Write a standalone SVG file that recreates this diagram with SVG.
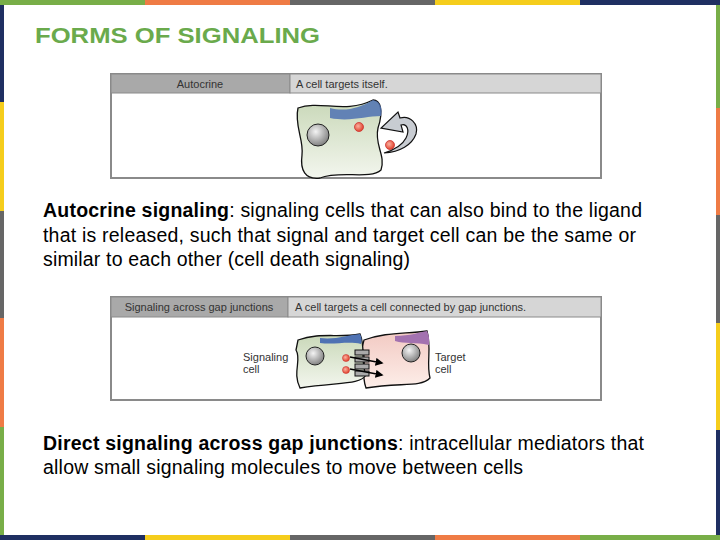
<svg xmlns="http://www.w3.org/2000/svg" width="720" height="540" viewBox="0 0 720 540">
<style>
.body{font-family:"Liberation Sans",Arial,sans-serif;font-size:19.5px;fill:#000}
.hd{font-family:"Liberation Sans",Arial,sans-serif;font-size:11px;fill:#333}
.frame{fill:#fff;stroke:#8a8a8a;stroke-width:2}
.outline{stroke:#111;stroke-width:1.3}
</style>
<defs>
<linearGradient id="gGreen" x1="0" y1="0" x2="0" y2="1"><stop offset="0" stop-color="#c9d8b8"/><stop offset="1" stop-color="#f3f6ee"/></linearGradient>
<linearGradient id="gPink" x1="0" y1="0" x2="0" y2="1"><stop offset="0" stop-color="#f2c9c2"/><stop offset="1" stop-color="#fdeee9"/></linearGradient>
<radialGradient id="gNuc" cx="0.4" cy="0.35" r="0.7"><stop offset="0" stop-color="#f4f4f4"/><stop offset="1" stop-color="#7a7a7a"/></radialGradient>
<radialGradient id="gDot" cx="0.4" cy="0.4" r="0.6"><stop offset="0" stop-color="#fbb0a0"/><stop offset="1" stop-color="#e0442e"/></radialGradient>
<marker id="ah" viewBox="0 0 10 10" refX="8" refY="5" markerWidth="5" markerHeight="5" orient="auto"><path d="M0,0 L10,5 L0,10 z" fill="#000"/></marker>
</defs>
<rect width="720" height="540" fill="#fff"/>
<g id="border">
<rect x="0" y="0" width="145" height="5" fill="#78ae48"/><rect x="145" y="0" width="145" height="5" fill="#ef7b45"/><rect x="290" y="0" width="145" height="5" fill="#666"/><rect x="435" y="0" width="145" height="5" fill="#f5cd1c"/><rect x="580" y="0" width="140" height="5" fill="#1f2f62"/>
<rect x="0" y="535" width="145" height="5" fill="#1f2f62"/><rect x="145" y="535" width="145" height="5" fill="#f5cd1c"/><rect x="290" y="535" width="145" height="5" fill="#666"/><rect x="435" y="535" width="145" height="5" fill="#ef7b45"/><rect x="580" y="535" width="140" height="5" fill="#78ae48"/>
<rect x="0" y="5" width="4" height="97" fill="#1f2f62"/><rect x="0" y="102" width="4" height="109" fill="#f5cd1c"/><rect x="0" y="211" width="4" height="107" fill="#666"/><rect x="0" y="318" width="4" height="109" fill="#ef7b45"/><rect x="0" y="427" width="4" height="108" fill="#78ae48"/>
<rect x="716" y="5" width="4" height="103" fill="#78ae48"/><rect x="716" y="108" width="4" height="107" fill="#ef7b45"/><rect x="716" y="215" width="4" height="108" fill="#666"/><rect x="716" y="323" width="4" height="107" fill="#f5cd1c"/><rect x="716" y="430" width="4" height="105" fill="#1f2f62"/>
</g>
<text x="35" y="43" font-family="Liberation Sans,Arial,sans-serif" font-size="22" font-weight="bold" fill="#6aaa4c" textLength="285" lengthAdjust="spacingAndGlyphs">FORMS OF SIGNALING</text>
<g id="panel1">
<rect class="frame" x="111" y="74" width="490" height="104"/>
<rect x="111" y="74" width="179" height="19" fill="#a9a9a9" stroke="#8a8a8a"/>
<rect x="290" y="74" width="311" height="19" fill="#d6d6d6" stroke="#8a8a8a"/>
<text class="hd" x="200" y="88" text-anchor="middle">Autocrine</text>
<text class="hd" x="296" y="88">A cell targets itself.</text>
<path class="outline" d="M298,108 C320,100 345,114 373,100 C380,100 384,110 378,128 C374,145 386,155 381,170 C370,180 340,170 320,178 C305,180 300,170 302,155 C304,140 294,125 298,108 Z" fill="url(#gGreen)"/>
<path d="M330,108 C345,112 360,108 373,100 C380,101 383,108 381,116 C366,116 350,122 330,118 Z" fill="#4f72b3" opacity="0.85"/>
<circle cx="318" cy="135" r="11" fill="url(#gNuc)" stroke="#222"/>
<circle cx="359" cy="127" r="4.5" fill="url(#gDot)" stroke="#c33" stroke-width="0.8"/>
<circle cx="390" cy="145" r="4.5" fill="url(#gDot)" stroke="#c33" stroke-width="0.8"/>
<path d="M384,153 C400,152 412,145 416,134 C419,124 410,115 400,118 L398,112 L381,128 L403,132 L401,125 C407,123 410,130 406,138 C402,146 394,150 384,153 Z" fill="#c8ccd2" stroke="#111" stroke-width="1.2"/>
</g>
<text class="body" x="43" y="217" textLength="599"><tspan font-weight="bold">Autocrine signaling</tspan>: signaling cells that can also bind to the ligand</text>
<text class="body" x="43" y="242" textLength="593">that is released, such that signal and target cell can be the same or</text>
<text class="body" x="43" y="266" textLength="367">similar to each other (cell death signaling)</text>
<g id="panel2">
<rect class="frame" x="111" y="297" width="490" height="103"/>
<rect x="111" y="297" width="177" height="20" fill="#a9a9a9" stroke="#8a8a8a"/>
<rect x="288" y="297" width="313" height="20" fill="#d6d6d6" stroke="#8a8a8a"/>
<text class="hd" x="199" y="311" text-anchor="middle">Signaling across gap junctions</text>
<text class="hd" x="295" y="311">A cell targets a cell connected by gap junctions.</text>
<path class="outline" d="M364,340 C386,332 404,334 427,331 C432,350 426,362 430,378 C420,388 400,382 366,388 C360,372 368,360 362,348 Z" fill="url(#gPink)"/>
<path d="M395,336 C410,336 420,332 427,331 C430,337 429,341 429,345 C415,342 405,344 395,341 Z" fill="#a372b0"/>
<path class="outline" d="M298,340 C320,332 338,338 360,334 C366,348 360,360 366,375 C360,385 340,382 300,388 C292,372 302,360 296,350 Z" fill="url(#gGreen)"/>
<path d="M320,338 C335,340 348,335 360,334 C362,338 362,341 361,344 C348,341 334,345 320,343 Z" fill="#4f72b3"/>
<circle cx="315" cy="356" r="9" fill="url(#gNuc)" stroke="#222"/>
<circle cx="411" cy="353" r="9" fill="url(#gNuc)" stroke="#222"/>
<rect x="355" y="350" width="14" height="5" fill="#aaa" stroke="#111"/>
<rect x="355" y="357" width="14" height="5" fill="#aaa" stroke="#111"/>
<rect x="355" y="364" width="14" height="5" fill="#aaa" stroke="#111"/>
<rect x="355" y="371" width="14" height="5" fill="#aaa" stroke="#111"/>
<circle cx="346" cy="358" r="3.5" fill="url(#gDot)" stroke="#c33" stroke-width="0.6"/>
<circle cx="346" cy="370" r="3.5" fill="url(#gDot)" stroke="#c33" stroke-width="0.6"/>
<g stroke="#000" stroke-width="1.6" fill="none" marker-end="url(#ah)"><path d="M350,357 L382,363"/><path d="M350,369 L382,375"/></g>
<text class="hd" x="243" y="361">Signaling</text><text class="hd" x="243" y="373">cell</text>
<text class="hd" x="435" y="361">Target</text><text class="hd" x="435" y="373">cell</text>
</g>
<text class="body" x="43" y="450" textLength="601"><tspan font-weight="bold">Direct signaling across gap junctions</tspan>: intracellular mediators that</text>
<text class="body" x="43" y="474" textLength="480">allow small signaling molecules to move between cells</text>
</svg>
